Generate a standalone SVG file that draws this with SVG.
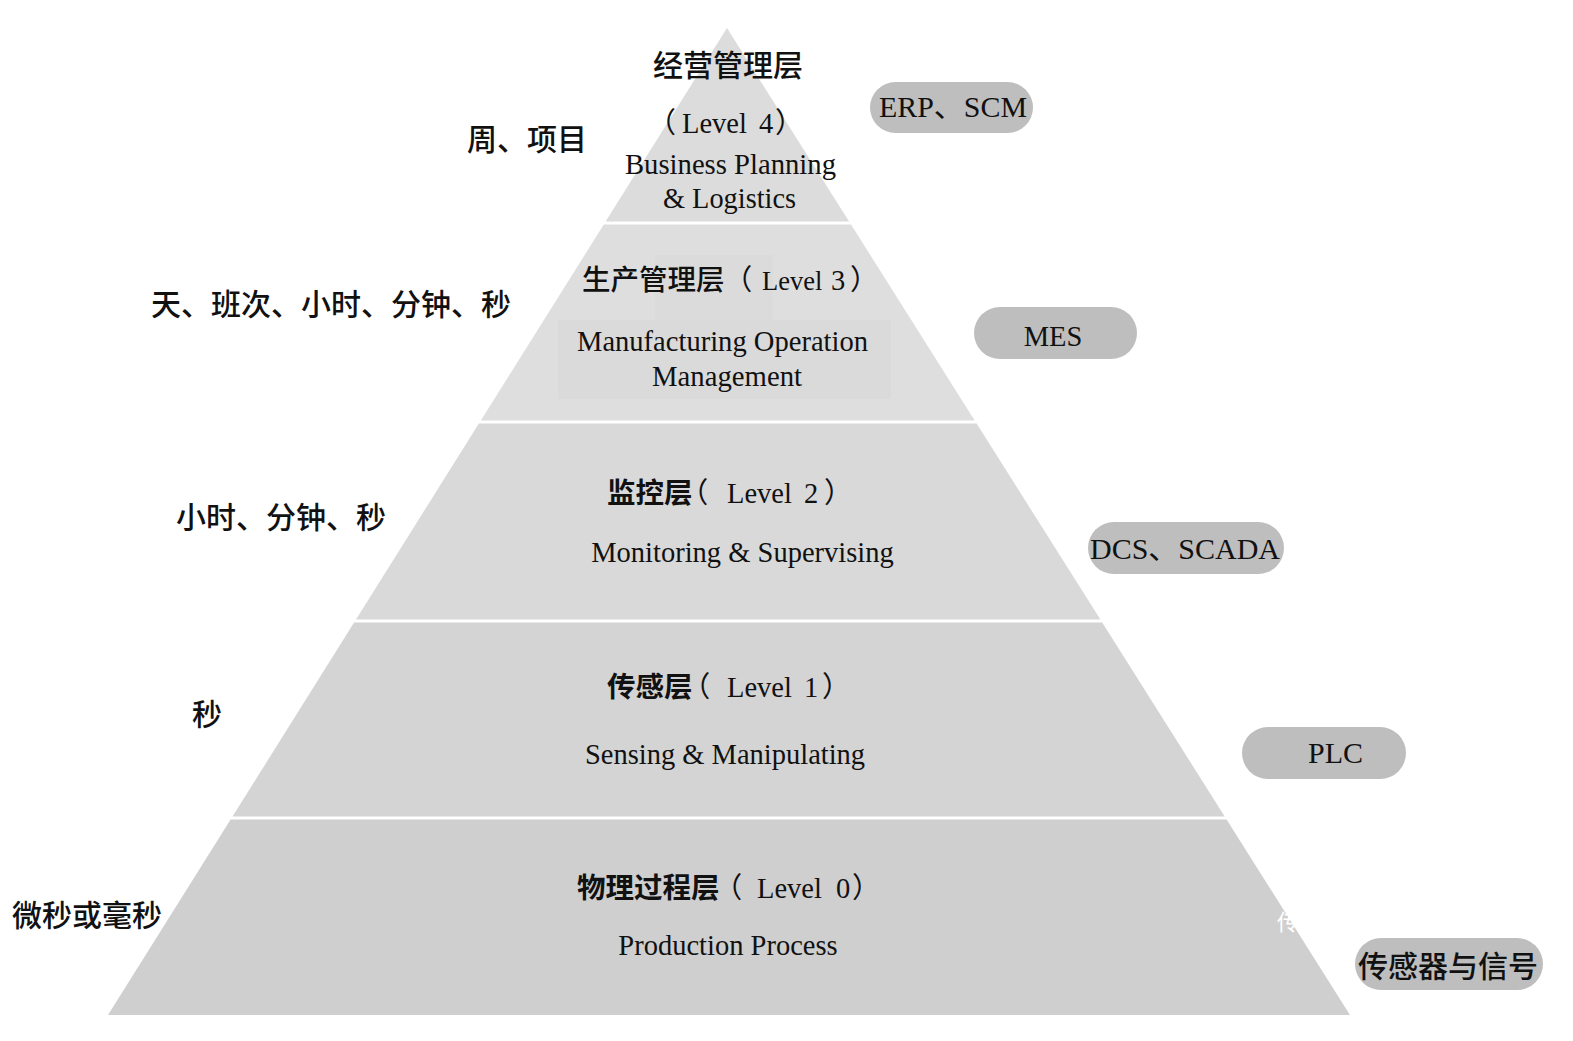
<svg xmlns="http://www.w3.org/2000/svg" width="1573" height="1041" viewBox="0 0 1573 1041">
<style>
.lat{font-family:"Liberation Serif","Noto Sans CJK SC",serif;fill:#111;font-size:28.5px}
.cjk{font-family:"Noto Sans CJK SC",sans-serif;fill:#111;font-size:30px;font-weight:500}
.p{font-family:"Noto Sans CJK SC",sans-serif;font-weight:400}
.ph{font-family:"Noto Sans CJK SC",sans-serif;font-weight:400;font-feature-settings:"halt" 1}
.hb{font-family:"Noto Sans CJK SC",sans-serif;font-weight:700}
.hm{font-family:"Noto Sans CJK SC",sans-serif;font-weight:500}
.pill{fill:#bebebe}
.mid{text-anchor:middle}
</style>
<rect width="1573" height="1041" fill="#ffffff"/>
<g id="level4">
<polygon points="727,28 849.1,221.5 605.6,221.5" fill="#dcdcdc"/>
<text class="cjk" x="653" y="76">经营管理层</text>
<text class="lat" y="133"><tspan class="p" x="647.5">（</tspan><tspan x="682">Level</tspan><tspan x="759">4</tspan><tspan class="p" x="775">）</tspan></text>
<text class="lat" x="625" y="174" font-size="26.5" textLength="211" lengthAdjust="spacingAndGlyphs">Business Planning</text>
<text class="lat" x="663" y="208" font-size="26.5" textLength="133" lengthAdjust="spacingAndGlyphs">&amp; Logistics</text>
</g>
<g id="level3">
<polygon points="603.8,224.5 851,224.5 974.7,420.5 480.8,420.5" fill="#dedede"/>
<rect x="655" y="255" width="118" height="65" fill="#dbdbdb"/>
<rect x="558" y="320" width="333" height="79" fill="#dadada"/>
<text class="lat" y="290" font-size="29"><tspan class="hm" x="582">生产管理层</tspan><tspan class="ph" x="738">（</tspan><tspan x="762" font-size="26.5">Level</tspan><tspan x="831">3</tspan><tspan class="p" x="850">）</tspan></text>
<text class="lat" x="577" y="351" font-size="27.5" textLength="291" lengthAdjust="spacingAndGlyphs">Manufacturing Operation</text>
<text class="lat" x="652" y="386" font-size="27.5" textLength="150" lengthAdjust="spacingAndGlyphs">Management</text>
</g>
<g id="level2">
<polygon points="478.9,423.5 976.6,423.5 1100.4,619.5 356,619.5" fill="#d9d9d9"/>
<text class="lat" y="503"><tspan class="hb" x="607">监控层</tspan><tspan class="ph" x="694">（</tspan><tspan x="727">Level</tspan><tspan x="804">2</tspan><tspan class="p" x="824">）</tspan></text>
<text class="lat mid" x="742.5" y="562">Monitoring &amp; Supervising</text>
</g>
<g id="level1">
<polygon points="354.1,622.5 1102.2,622.5 1224.7,816.5 232.5,816.5" fill="#d4d4d4"/>
<text class="lat" y="697"><tspan class="hb" x="607">传感层</tspan><tspan class="ph" x="696">（</tspan><tspan x="727">Level</tspan><tspan x="804">1</tspan><tspan class="p" x="822">）</tspan></text>
<text class="lat mid" x="725" y="764">Sensing &amp; Manipulating</text>
</g>
<g id="level0">
<polygon points="230.6,819.5 1226.6,819.5 1350,1015 108,1015" fill="#cfcfcf"/>
<text class="lat" y="898" font-size="29"><tspan class="hb" x="577">物理过程层</tspan><tspan class="ph" x="728">（</tspan><tspan x="757">Level</tspan><tspan x="836">0</tspan><tspan class="p" x="852">）</tspan></text>
<text class="lat mid" x="728" y="955">Production Process</text>
<text x="1277" y="930" font-family="Noto Sans CJK SC,sans-serif" font-size="22" fill="#ffffff">传</text>
</g>
<g id="time-labels">
<text id="t4" class="cjk" x="467" y="150">周、项目</text>
<text id="t3" class="cjk" x="151" y="315">天、班次、小时、分钟、秒</text>
<text id="t2" class="cjk" x="176" y="528">小时、分钟、秒</text>
<text id="t1" class="cjk" x="192" y="725">秒</text>
<text id="t0" class="cjk" x="12" y="926">微秒或毫秒</text>
</g>
<g id="pill-erp">
<rect class="pill" x="870" y="82" width="163" height="51" rx="25.5"/>
<text class="lat" x="879" y="117" font-size="27" textLength="148" lengthAdjust="spacingAndGlyphs">ERP、SCM</text>
</g>
<g id="pill-mes">
<rect class="pill" x="974" y="307" width="163" height="52" rx="26"/>
<text class="lat mid" x="1053" y="346" font-size="29.5">MES</text>
</g>
<g id="pill-dcs">
<rect class="pill" x="1088" y="522" width="196" height="52" rx="26"/>
<text class="lat" x="1090" y="559" font-size="34" textLength="190" lengthAdjust="spacingAndGlyphs">DCS、SCADA</text>
</g>
<g id="pill-plc">
<rect class="pill" x="1242" y="727" width="164" height="52" rx="26"/>
<text class="lat" x="1308" y="763" font-size="31" textLength="55" lengthAdjust="spacingAndGlyphs">PLC</text>
</g>
<g id="pill-sensor">
<rect class="pill" x="1355" y="938" width="188" height="52" rx="26"/>
<text class="cjk" x="1358" y="977" font-size="30.5" font-weight="700">传感器与信号</text>
</g>
<g id="connectors"/>
</svg>
